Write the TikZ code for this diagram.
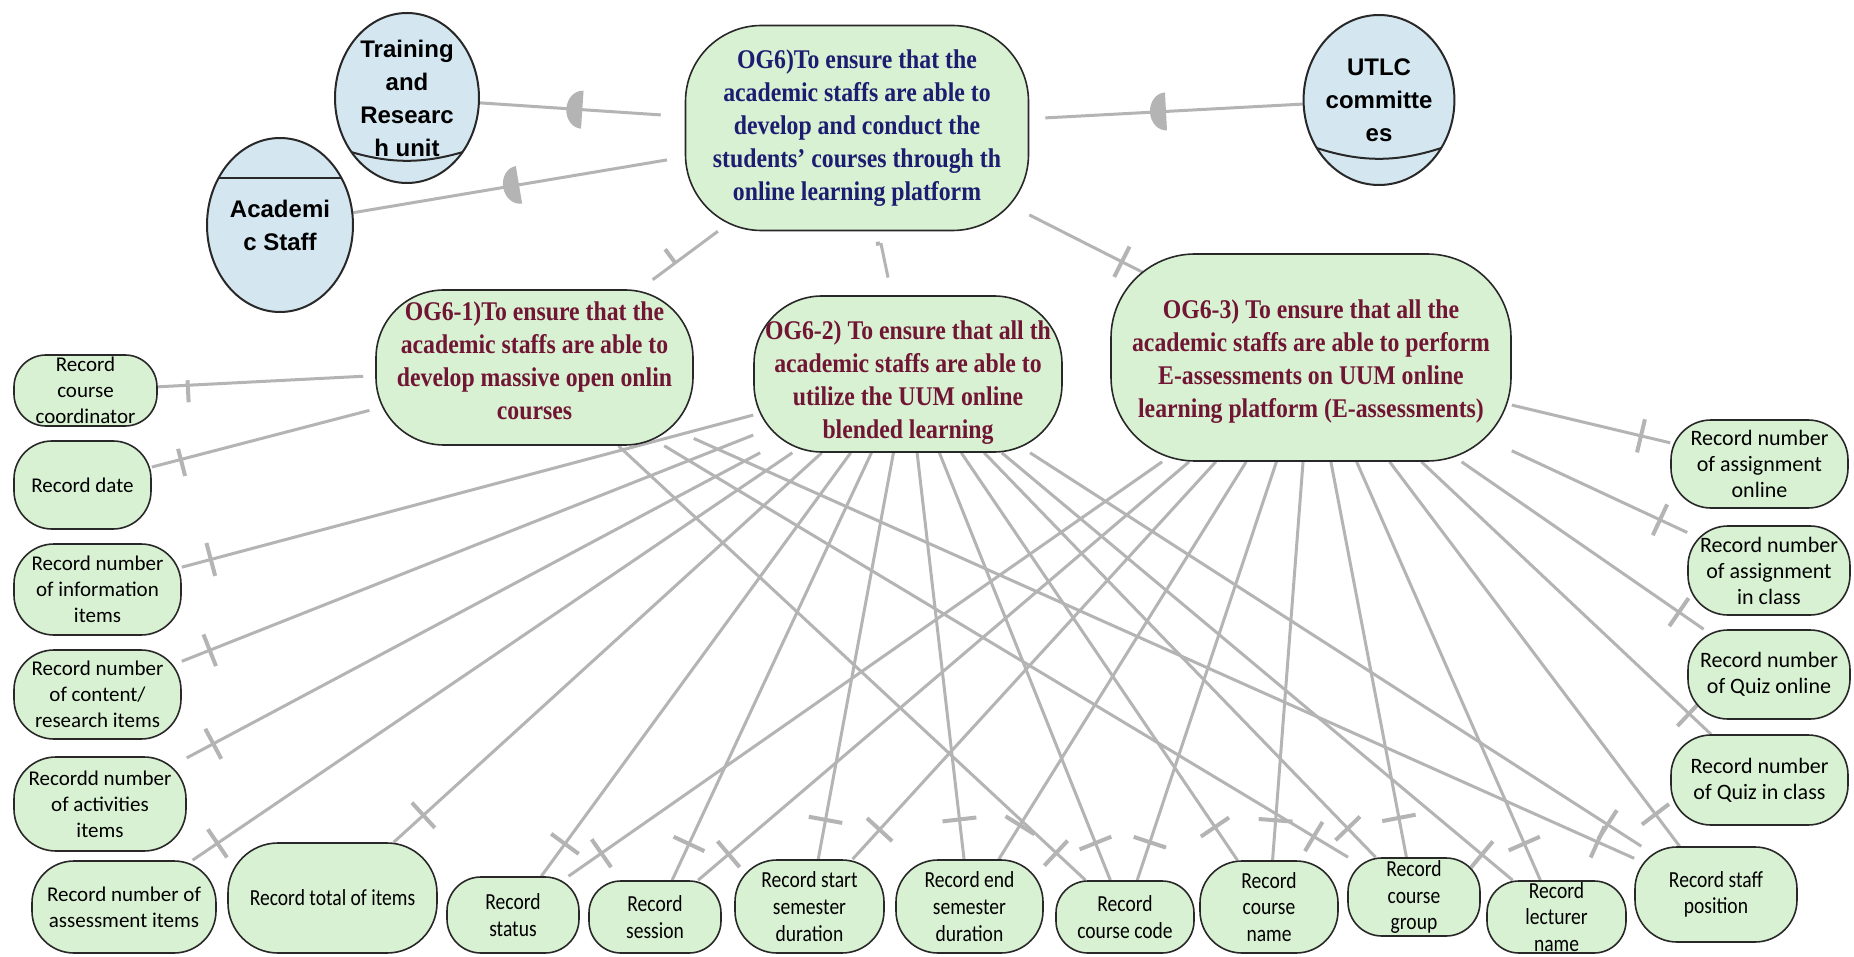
\documentclass[tikz,border=0pt]{standalone}
\usepackage{fontspec}
\usetikzlibrary{shapes.geometric,decorations.markings}
\setmainfont{Liberation Serif}
\newfontfamily\goalfont[FakeStretch=0.88]{Liberation Serif Bold}
\newfontfamily\attrfont{Carlito}
\newfontfamily\rowfont[FakeStretch=0.85]{Carlito}
\newfontfamily\actorfont{Liberation Sans Bold}

\definecolor{goalfill}{RGB}{217,241,211}
\definecolor{actorfill}{RGB}{212,231,241}
\definecolor{edgegray}{RGB}{180,180,180}
\definecolor{navytext}{RGB}{28,28,112}
\definecolor{maroontext}{RGB}{112,22,52}
\definecolor{outline}{RGB}{40,40,40}

\pgfdeclarelayer{bg}
\pgfdeclarelayer{links}
\pgfsetlayers{bg,links,main}

% invisible struts that nudge a goal's text block down (first line) or up (last line)
\newcommand\topstrut[1]{\rule{0pt}{#1}}
\newcommand\botstrut[1]{\rule[-#1]{0pt}{#1}}

\tikzset{
  x=0.5pt, y=-0.5pt,
  goal/.style n args={3}{draw=outline, line width=0.8pt, fill=goalfill, inner sep=0pt,
    align=center, minimum width=#1, minimum height=#2, rounded corners=#3,
    font=\goalfont\fontsize{13.5}{16.5}\selectfont},
  attr/.style n args={3}{draw=outline, line width=0.8pt, fill=goalfill, inner sep=0pt,
    align=center, minimum width=#1, minimum height=#2, rounded corners=#3,
    font=\attrfont\fontsize{10.5}{13}\selectfont},
  rowattr/.style={font=\rowfont\fontsize{11.5}{13.3}\selectfont},
  sideattr/.style={font=\attrfont\fontsize{11}{13}\selectfont},
  actor/.style n args={2}{ellipse, draw=outline, line width=1pt, fill=actorfill, inner sep=0pt,
    align=center, minimum width=#1, minimum height=#2,
    font=\actorfont\fontsize{12}{16.5}\selectfont},
  rolecurve/.style={path picture={\draw[outline, line width=1pt]
      ([shift={(-37pt,-#1)}]path picture bounding box.center) to[bend right=20]
      ([shift={(37pt,-#1)}]path picture bounding box.center);}},
  agentline/.style={path picture={\draw[outline, line width=0.8pt]
      ([shift={(-50pt,#1)}]path picture bounding box.center) -- ++(100pt,0pt);}},
  link/.style={draw=edgegray, line width=1.5pt},
  endbar/.style={postaction={decorate, decoration={markings,
      mark=at position #1 with {\draw[edgegray, line width=2pt] (0pt,-8.5pt) -- (0pt,8.5pt);}}}},
  endbar/.default=-20pt,
  halfdisc/.style={postaction={decorate, decoration={markings,
      mark=at position 0.5 with {\fill[edgegray] (0pt,-9.5pt)
        arc[start angle=-90, end angle=-270, x radius=8pt, y radius=9.5pt] -- cycle;}}}},
}

\begin{document}
\begin{tikzpicture}
\begin{pgfonlayer}{bg}
  \fill[white] (0,0) rectangle (1854,957);
\end{pgfonlayer}
\useasboundingbox (0,0) rectangle (1854,957);

% actors
\node[actor={72pt}{85pt}, rolecurve=24pt] (tr) at (407,98)
  {Training\\and\\Researc\\h unit};
\node[actor={73pt}{87pt}, agentline=23.5pt] (st) at (280,225)
  {Academi\\c Staff};
\node[actor={70pt}{85pt}, rolecurve=22pt] (ut) at (1379,100)
  {UTLC\\committe\\es};

% goals
\node[goal={171.5pt}{102.5pt}{38pt}, text=navytext] (og0) at (857,128)
  {OG6)To ensure that the\\academic staffs are able to\\develop and conduct the\\students’ courses through th\\online learning platform};
\node[goal={158.5pt}{77.5pt}{34pt}, text=maroontext] (og1) at (534.5,367.5)
  {OG6-1)To ensure that the\\academic staffs are able to\\develop massive open onlin\\courses\botstrut{7pt}};
\node[goal={154pt}{78pt}{34pt}, text=maroontext] (og2) at (908,374)
  {\topstrut{17.5pt}OG6-2) To ensure that all th\\academic staffs are able to\\utilize the UUM online\\blended learning};
\node[goal={200pt}{103.5pt}{42pt}, text=maroontext] (og3) at (1311,357.5)
  {\topstrut{13.5pt}OG6-3) To ensure that all the\\academic staffs are able to perform\\E-assessments on UUM online\\learning platform (E-assessments)};

% left column
\node[attr={71.5pt}{35.5pt}{16pt}] (cc) at (85.5,390.5) {Record\\course\\coordinator};
\node[attr={68.5pt}{44pt}{19pt}] (dt) at (82.5,485) {Record date};
\node[attr={83.5pt}{45.5pt}{20pt}] (inf) at (97.5,589.5) {Record number\\of information\\items};
\node[attr={83.5pt}{44.5pt}{20pt}] (cnt) at (97.5,694.5) {Record number\\of content/\\research items};
\node[attr={86pt}{47pt}{21pt}] (act) at (100,804) {Recordd number\\of activities\\items};
\node[attr={92pt}{46pt}{21pt}] (asm) at (124,907) {Record number of\\assessment items};

% bottom row
\node[attr={104.5pt}{55pt}{25pt}, rowattr] (tot) at (332.5,898) {Record total of items};
\node[attr={66pt}{38pt}{17pt}, rowattr] (sts) at (513,915) {Record\\status};
\node[attr={66pt}{36pt}{16pt}, rowattr] (ses) at (655,917) {Record\\session};
\node[attr={74.5pt}{46.5pt}{21pt}, rowattr] (ssd) at (809.5,906.5) {Record start\\semester\\duration};
\node[attr={73.5pt}{46.5pt}{21pt}, rowattr] (esd) at (969.5,906.5) {Record end\\semester\\duration};
\node[attr={69pt}{36pt}{16pt}, rowattr] (ccd) at (1125,917) {Record\\course code};
\node[attr={69pt}{46pt}{21pt}, rowattr] (cnm) at (1269,907) {Record\\course\\name};
\node[attr={66pt}{39pt}{17pt}, rowattr] (cgp) at (1414,897) {Record\\course\\group};
\node[attr={69.5pt}{36pt}{16pt}, rowattr] (lec) at (1556.5,917) {Record\\lecturer\\name};
\node[attr={81pt}{47.5pt}{21pt}, rowattr] (pos) at (1716,894.5) {Record staff\\position};

% right column
\node[attr={88.5pt}{44pt}{20pt}, sideattr] (ao) at (1759.5,464) {Record number\\of assignment\\online};
\node[attr={81pt}{44.5pt}{20pt}, sideattr] (ac) at (1769,570.5) {Record number\\of assignment\\in class};
\node[attr={81pt}{44.5pt}{20pt}, sideattr] (qo) at (1769,674.5) {Record number\\of Quiz online};
\node[attr={88.5pt}{45pt}{20pt}, sideattr] (qc) at (1759.5,780) {Record number\\of Quiz in class};

\begin{pgfonlayer}{links}
  % actor dependencies
  \draw[link, halfdisc, shorten >=12pt] (tr) -- (og0);
  \draw[link, halfdisc, shorten >=9pt] (st) -- (og0);
  \draw[link, halfdisc, shorten <=8pt] (og0) -- (ut);

  % goal decomposition (the OG6-3 link runs into the node body, hidden under its fill)
  \draw[link, endbar=-22pt, shorten >=8pt] (og0) -- (og1);
  \draw[link, endbar=6pt, shorten <=6pt, shorten >=9pt] (og0) -- (og2);
  \draw[link, endbar=-106pt] (og0) -- (og3.center);

  % OG6-1 records
  \draw[link, endbar=-15pt, shorten <=6pt] (og1) -- (cc);
  \draw[link, endbar=-15pt, shorten <=3pt] (og1) -- (dt);
  \foreach \t in {ccd,cgp,pos}
    \draw[link, endbar] (og1) -- (\t);

  % OG6-2 records
  \foreach \t in {inf,cnt,act,asm}
    \draw[link, endbar=-15pt] (og2) -- (\t);
  \foreach \t in {tot,sts,ses,ssd,esd,ccd,cnm,cgp,lec,pos}
    \draw[link, endbar] (og2) -- (\t);

  % OG6-3 records
  \foreach \t in {sts,ses,ssd,esd,ccd,cnm,cgp,lec,pos}
    \draw[link, endbar] (og3) -- (\t);
  \foreach \t in {ao,ac,qo,qc}
    \draw[link, endbar=-15pt] (og3) -- (\t);
\end{pgfonlayer}
\end{tikzpicture}
\end{document}
